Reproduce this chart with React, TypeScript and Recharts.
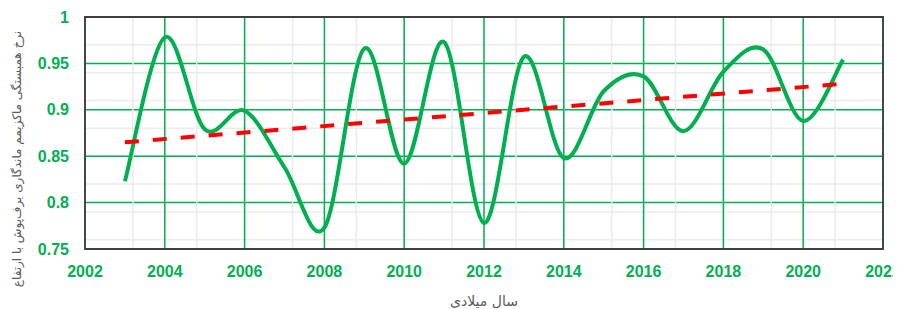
import React from 'react';
import { ComposedChart, Line, XAxis, YAxis, CartesianGrid, ReferenceArea } from 'recharts';

const years = [2003, 2004, 2005, 2006, 2007, 2008, 2009, 2010, 2011, 2012, 2013, 2014, 2015, 2016, 2017, 2018, 2019, 2020, 2021];
const values = [0.823, 0.978, 0.879, 0.899, 0.838, 0.773, 0.966, 0.842, 0.973, 0.778, 0.957, 0.848, 0.920, 0.936, 0.877, 0.941, 0.965, 0.888, 0.954];
const trendYears = [2003, 2021];
const trendValues = [0.865, 0.928];
const xTicks = [2002, 2004, 2006, 2008, 2010, 2012, 2014, 2016, 2018, 2020, 2022];
const yTicks = [0.75, 0.8, 0.85, 0.9, 0.95, 1];
const xMinorTicks = Array.from({ length: 51 }, (_, i) => +(2002 + i * 0.4).toFixed(2));
const yMinorTicks = Array.from({ length: 26 }, (_, i) => +(0.75 + i * 0.01).toFixed(3));

const xTitle = 'سال میلادی';
const yTitle = 'نرخ همبستگی ماکزیمم ماندگاری برف‌پوش با ارتفاع';

const data = years.map((y, i) => ({ year: y, v: values[i] }));
const trend = trendYears.map((y, i) => ({ year: y, t: trendValues[i] }));

const GREEN = '#00B050';
const GRAY_TEXT = '#595959';

const excelSmooth = (context: any) => {
  let pts: number[][] = [];
  return {
    areaStart() {},
    areaEnd() {},
    lineStart() { pts = []; },
    point(x: number, y: number) { pts.push([+x, +y]); },
    lineEnd() {
      const n = pts.length;
      if (!n) return;
      context.moveTo(pts[0][0], pts[0][1]);
      for (let i = 0; i < n - 1; i++) {
        const p0 = pts[i - 1] || pts[i];
        const p1 = pts[i];
        const p2 = pts[i + 1];
        const p3 = pts[i + 2] || p2;
        const c1x = p1[0] + (p2[0] - p0[0]) / 6;
        const c1y = p1[1] + (p2[1] - p0[1]) / 6;
        const c2x = p2[0] - (p3[0] - p1[0]) / 6;
        const c2y = p2[1] - (p3[1] - p1[1]) / 6;
        context.bezierCurveTo(c1x, c1y, c2x, c2y, p2[0], p2[1]);
      }
    },
  };
};

const tickStyle = { fill: GREEN, fontSize: 16, fontWeight: 700, fontFamily: '"Liberation Sans", Arial, sans-serif' };

const XTitle = (props: any) => {
  const vb = props.viewBox || { x: 77, y: 241, width: 798, height: 30 };
  return (
    <text x={vb.x + vb.width / 2} y={vb.y + 52} textAnchor="middle" dominantBaseline="central"
      fill={GRAY_TEXT} fontSize={14} fontFamily='"DejaVu Sans", sans-serif'>{xTitle}</text>
  );
};

const YTitle = (props: any) => {
  const vb = props.viewBox || { x: 0, y: 9, width: 77, height: 232 };
  const cx = vb.x + 9;
  const cy = vb.y + vb.height / 2 + 26;
  return (
    <text x={cx} y={cy} transform={`rotate(-90 ${cx} ${cy})`} textAnchor="middle" dominantBaseline="central"
      fill={GRAY_TEXT} fontSize={12} fontFamily='"DejaVu Sans", sans-serif'>{yTitle}</text>
  );
};

export default function App() {
  return (
    <div>
      <style>{'html,body{overflow:hidden} svg.recharts-surface{overflow:visible}'}</style>
      <ComposedChart width={893} height={301} data={data} margin={{ top: 9, right: 18, bottom: 30, left: 0 }}>
        <XAxis xAxisId="minor" dataKey="year" type="number" domain={[2002, 2022]} ticks={xMinorTicks} hide allowDataOverflow />
        <YAxis yAxisId="minor" type="number" domain={[0.75, 1]} ticks={yMinorTicks} hide allowDataOverflow />
        <CartesianGrid xAxisId="minor" yAxisId="minor" vertical={false} stroke="#EBEBEB" strokeWidth={1.5} />
        <CartesianGrid horizontal={true} vertical={false} stroke={GREEN} strokeWidth={1.5} />
        <CartesianGrid xAxisId="minor" yAxisId="minor" horizontal={false} stroke="#EBEBEB" strokeWidth={1.5} />
        <CartesianGrid horizontal={false} vertical={true} stroke={GREEN} strokeWidth={1.5} />
        <XAxis dataKey="year" type="number" domain={[2002, 2022]} ticks={xTicks} tickLine={false} tickSize={0} tickMargin={17}
          axisLine={false} tick={tickStyle} height={30} label={{ content: XTitle }} />
        <YAxis type="number" domain={[0.75, 1]} ticks={yTicks} tickLine={false} tickSize={0} tickMargin={16}
          axisLine={false} tick={tickStyle} width={77} label={{ content: YTitle }} />
        <Line type={excelSmooth as any} dataKey="v" stroke={GREEN} strokeWidth={4} dot={false} activeDot={false} isAnimationActive={false} />
        <Line data={trend} type="linear" dataKey="t" stroke="#FF0000" strokeWidth={4} strokeDasharray="14 14" dot={false} activeDot={false} isAnimationActive={false} />
        <ReferenceArea x1={2002} x2={2022} y1={0.75} y2={1} fill="none" stroke="#404040" strokeWidth={1.8} ifOverflow="visible" />
      </ComposedChart>
    </div>
  );
}
